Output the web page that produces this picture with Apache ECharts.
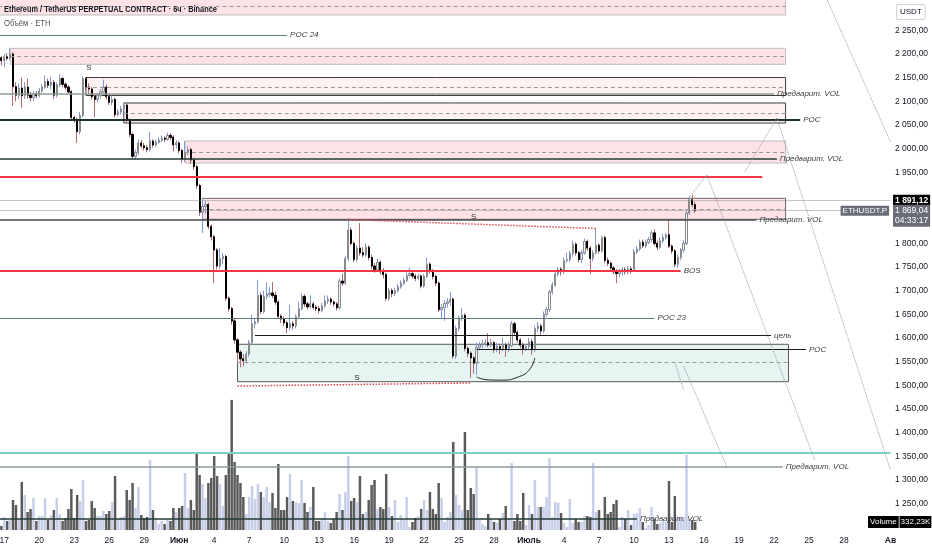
<!DOCTYPE html>
<html><head><meta charset="utf-8">
<script src="https://cdn.jsdelivr.net/npm/echarts/dist/echarts.min.js"></script>
<style>html,body{margin:0;padding:0;background:#fff}#c{width:932px;height:550px}</style>
</head><body><div id="c"></div>
<script>
// ---- DATA ----
// 6h candles from 16 May 12:00, each row: [open, close, low, high]
const candles = [
[2186,2192,2180,2198],[2192,2186,2176,2196],[2186,2194,2172,2200],[2194,2191,2186,2202],[2191,2200,2188,2212],
[2200,2131,2090,2204],[2131,2113,2100,2140],[2113,2128,2105,2138],[2128,2112,2086,2150],[2112,2130,2105,2140],
[2130,2113,2105,2148],[2113,2108,2100,2120],[2108,2116,2100,2122],[2116,2112,2106,2122],[2112,2122,2108,2128],
[2122,2130,2118,2136],[2130,2142,2126,2155],[2142,2134,2128,2148],[2134,2140,2125,2152],[2140,2113,2105,2145],
[2113,2135,2108,2140],[2135,2148,2130,2157],[2148,2136,2130,2152],[2136,2130,2124,2140],[2130,2120,2115,2134],
[2120,2066,2060,2124],[2066,2062,2055,2070],[2062,2036,2012,2066],[2036,2070,2030,2078],[2070,2148,2066,2153],
[2148,2130,2122,2151],[2130,2126,2116,2138],[2126,2110,2104,2130],[2110,2104,2066,2114],[2104,2112,2098,2118],
[2112,2120,2106,2126],[2120,2130,2116,2146],[2130,2110,2104,2136],[2110,2098,2092,2116],[2098,2104,2092,2112],
[2104,2072,2066,2108],[2072,2078,2068,2084],[2078,2084,2072,2090],[2084,2092,2078,2097],[2092,2060,2054,2096],
[2060,2030,2024,2064],[2030,1984,1978,2034],[1984,1992,1976,1998],[1992,2012,1986,2020],[2012,2006,2000,2018],
[2006,2002,1996,2012],[2002,1998,1992,2008],[1998,2016,1994,2036],[2016,2008,2002,2020],[2008,2014,2004,2020],
[2014,2018,2010,2024],[2018,2022,2014,2028],[2022,2020,2014,2026],[2020,2028,2016,2034],[2028,2024,2018,2032],
[2024,2008,1994,2028],[2008,2012,2000,2018],[2012,1996,1990,2016],[1996,1978,1970,2000],[1978,1992,1972,2016],
[1992,1998,1986,2006],[1998,1976,1968,2002],[1976,1962,1955,1980],[1962,1922,1915,1966],[1922,1866,1858,1926],
[1866,1878,1822,1895],[1878,1882,1862,1890],[1882,1836,1830,1886],[1836,1814,1806,1840],[1814,1786,1716,1818],
[1786,1752,1745,1790],[1752,1768,1746,1790],[1768,1772,1756,1780],[1772,1684,1678,1776],[1684,1662,1656,1688],
[1662,1636,1628,1666],[1636,1596,1588,1640],[1596,1570,1545,1600],[1570,1556,1538,1574],[1556,1552,1540,1566],
[1552,1566,1547,1572],[1566,1590,1560,1596],[1590,1630,1586,1649],[1630,1634,1620,1642],[1634,1690,1630,1723],
[1690,1656,1650,1696],[1656,1688,1652,1700],[1688,1692,1682,1718],[1692,1695,1686,1708],[1695,1690,1684,1718],
[1690,1676,1670,1698],[1676,1646,1640,1680],[1646,1640,1632,1650],[1640,1632,1625,1645],[1632,1622,1610,1636],
[1622,1630,1616,1670],[1630,1626,1618,1636],[1626,1645,1620,1650],[1645,1662,1640,1676],[1662,1688,1658,1694],
[1688,1672,1666,1692],[1672,1666,1660,1676],[1666,1672,1662,1690],[1672,1665,1660,1676],[1665,1662,1656,1670],
[1662,1658,1652,1668],[1658,1668,1654,1674],[1668,1678,1664,1690],[1678,1682,1672,1690],[1682,1676,1670,1686],
[1676,1672,1666,1680],[1672,1664,1658,1676],[1664,1720,1660,1726],[1720,1716,1710,1736],[1716,1768,1712,1774],
[1768,1828,1762,1852],[1828,1800,1795,1834],[1800,1766,1760,1804],[1766,1790,1760,1796],[1790,1780,1774,1843],
[1780,1776,1770,1792],[1776,1792,1772,1800],[1792,1770,1764,1796],[1770,1752,1745,1776],[1752,1745,1738,1758],
[1745,1760,1740,1768],[1760,1740,1734,1764],[1740,1734,1726,1748],[1734,1684,1678,1738],[1684,1700,1678,1706],
[1700,1694,1686,1705],[1694,1700,1688,1706],[1700,1708,1696,1714],[1708,1716,1704,1722],[1716,1722,1712,1728],
[1722,1732,1718,1738],[1732,1736,1728,1748],[1736,1731,1725,1740],[1731,1726,1720,1735],[1726,1731,1722,1736],
[1731,1710,1705,1734],[1710,1730,1706,1735],[1730,1756,1726,1770],[1756,1742,1736,1760],[1742,1730,1724,1746],
[1730,1716,1710,1734],[1716,1660,1655,1720],[1660,1664,1640,1672],[1664,1673,1636,1680],[1673,1676,1664,1684],
[1676,1682,1668,1698],[1682,1562,1556,1686],[1562,1620,1556,1626],[1620,1642,1614,1648],[1642,1648,1636,1664],
[1648,1578,1572,1652],[1578,1568,1560,1582],[1568,1558,1516,1572],[1558,1547,1525,1562],[1547,1580,1522,1590],
[1580,1585,1575,1592],[1585,1588,1578,1596],[1588,1590,1582,1598],[1590,1585,1580,1610],[1585,1590,1580,1598],
[1590,1575,1568,1594],[1575,1582,1570,1590],[1582,1578,1566,1588],[1578,1585,1572,1600],[1585,1578,1560,1590],
[1578,1584,1570,1592],[1584,1630,1580,1636],[1630,1612,1606,1634],[1612,1596,1590,1616],[1596,1585,1578,1600],
[1585,1578,1565,1590],[1578,1582,1572,1588],[1582,1592,1576,1600],[1592,1575,1565,1598],[1575,1620,1570,1626],
[1620,1625,1612,1634],[1625,1615,1605,1630],[1615,1650,1610,1656],[1650,1660,1645,1666],[1660,1697,1655,1702],
[1697,1712,1692,1718],[1712,1735,1708,1740],[1735,1745,1730,1750],[1745,1740,1732,1750],[1740,1764,1735,1770],
[1764,1766,1758,1780],[1766,1778,1760,1784],[1778,1798,1772,1806],[1798,1780,1774,1802],[1780,1766,1760,1784],
[1766,1780,1758,1786],[1780,1804,1776,1810],[1804,1790,1784,1808],[1790,1768,1735,1794],[1768,1780,1762,1786],
[1780,1796,1776,1832],[1796,1784,1778,1800],[1784,1812,1780,1816],[1812,1764,1758,1816],[1764,1758,1752,1770],
[1758,1748,1742,1762],[1748,1740,1734,1752],[1740,1736,1716,1746],[1736,1740,1728,1746],[1740,1744,1732,1750],
[1744,1740,1734,1750],[1740,1746,1734,1752],[1746,1744,1736,1752],[1744,1782,1740,1788],[1782,1788,1778,1794],
[1788,1802,1784,1808],[1802,1795,1790,1808],[1795,1802,1790,1808],[1802,1808,1798,1814],[1808,1822,1802,1828],
[1822,1800,1796,1830],[1800,1792,1786,1806],[1792,1805,1788,1812],[1805,1812,1800,1820],[1812,1818,1808,1822],
[1818,1794,1790,1849],[1794,1784,1778,1798],[1784,1756,1750,1788],[1756,1770,1748,1776],[1770,1786,1764,1790],
[1786,1800,1780,1806],[1800,1864,1796,1868],[1864,1892,1860,1899],[1892,1882,1876,1902],[1882,1869.04,1864,1888]
];
// volume per candle, thousands of ETH
const volumes = [
249,166,540,374,415,1245,1038,498,1992,1453, 747,872,1328,374,581,581,1328,415,623,830,
1328,664,374,498,872,1702,498,1453,1204,2075, 374,415,1204,913,581,581,789,664,789,1162,
2241,457,540,581,1660,1245,1951,913,1785,623, 498,540,2905,830,498,249,374,249,415,374,
913,747,913,996,2366,913,1245,830,3154,2283, 1909,1328,1951,2158,3071,2241,1909,996,2283,3154,
5400,2822,2283,1951,1370,664,1370,1826,1287,1909, 1577,1370,1785,1162,1536,913,2739,830,830,1370,
2324,1204,1162,1121,2075,1121,747,955,1785,374, 374,498,747,374,291,457,747,1494,830,1577,
3071,1204,1328,1162,2241,664,747,1245,1868,2075, 872,955,872,2324,955,581,1245,332,623,415,
1370,125,332,498,581,872,1245,830,1577,872, 664,1951,1328,332,540,747,3652,1453,1038,830,
4067,830,1743,1494,2615,415,249,166,664,457, 332,291,457,706,996,498,2781,374,664,374,
1536,208,1038,664,2075,955,955,955,1370,2988, 540,1162,1121,706,291,125,1287,291,457,332,
332,581,581,540,2781,747,830,498,1370,664, 747,1079,1245,125,540,457,830,208,664,706,
913,332,83,208,955,457,249,291,457,332, 2034,332,1411,540,540,540,3113,457,415,332.23
];
const tickDates = ['05-17','05-20','05-23','05-26','05-29','06-01','06-04','06-07','06-10','06-13','06-16','06-19','06-22','06-25','06-28','07-01','07-04','07-07','07-10','07-13','07-16','07-19','07-22','07-25','07-28','08-01'];
const tickTexts = ['17','20','23','26','29','Июн','4','7','10','13','16','19','22','25','28','Июль','4','7','10','13','16','19','22','25','28','Ав'];
const monthTexts = ['Июн','Июль','Ав'];
// zones: [from, to, top, bottom, dashed mid, kind]
const zones = [
['05-16 12','07-23 00',2335,2282.4,2301.4,'pink'],
['05-17 12','07-23 00',2212,2178.2,2195.8,'pink'],
['05-24 00','07-23 00',2150.3,2112.3,2130.3,'pinkDark'],
['05-27 06','07-23 00',2096.5,2054.2,2075.3,'pinkDark'],
['06-01 12','07-23 00',2016.2,1969.7,1993,'pink'],
['06-03 00','07-23 00',1895.1,1850.8,1871.9,'pinkMid'],
['06-06 00','07-23 06',1586.7,1507.7,1547.8,'teal']
];
// horizontal levels: [price, from, to, label, kind]
const levels = [
[2240.1,'05-16 12','06-10 06','POC 24','poc'],
[2115.5,'05-16 12','07-22 00','Предварит. VOL','volLight'],
[2061.6,'05-16 12','07-24 06','POC','pocDark'],
[1978.2,'05-16 12','07-22 06','Предварит. VOL','volDark'],
[1940.1,'05-16 12','07-21 00','','red'],
[1850.8,'05-16 12','07-20 12','Предварит. VOL','volMid'],
[1741.5,'05-16 12','07-14 00','BOS','red'],
[1642.2,'05-16 12','07-11 18','POC 23','poc'],
[1605.7,'06-07 12','07-21 18','цель','black'],
[1576.1,'06-26 12','07-24 18','POC','black'],
[1357.0,'05-16 12','08-01 00','','teal'],
[1328.1,'05-16 12','07-22 18','Предварит. VOL','volLight'],
[1219.0,'05-16 12','07-10 06','Предварит. VOL','volDark'],
[1891.12,'05-16 12','08-01 00','','priceDot'],
[1869.04,'05-16 12','08-01 00','','priceDot']
];
// sloped segments: [from, price, to, price, kind]
const segments = [
['06-15 12',1850.3,'07-06 18',1831.3,'redDot'],
['06-06 00',1498.5,'06-26 00',1505,'redDot'],
['07-14 18',1897.9,'07-16 06',1944.4,'proj'],
['07-16 06',1944.4,'07-25 12',1342.2,'proj'],
['07-19 12',1950.7,'07-22 06',2064.8,'proj'],
['07-22 06',2064.8,'08-01 00',1321,'proj'],
['07-26 12',2318,'08-01 00',2014.1,'proj'],
['07-14 06',1540.8,'07-18 00',1325.3,'proj'],
['07-13 12',1549.3,'07-14 06',1490,'proj']
];
const sMarks = [['05-24 06',2170.4],['06-26 06',1855.6],['06-16 06',1515.4]];
const arcTimes = ['06-26 12','06-27 12','06-28 18','06-30 00','07-01 00','07-01 12'];
const arcPrices = [1517.6,1511.5,1511,1517,1532,1557.8];
const lastPrice = 1869.04, markPrice = 1891.12, countdown = '04:33:17', lastVolume = 332.23;

// ---- BUILD ----
const FONT = "'Liberation Sans',Arial,sans-serif";
const p2 = n => String(n).padStart(2,'0');
const START = Date.UTC(2023,4,16,12), SLOTS = 307;
const categories = [];
for (let i = 0; i < SLOTS; i++) {
  const d = new Date(START + i * 21600000);
  categories.push(p2(d.getUTCMonth()+1)+'-'+p2(d.getUTCDate())+' '+p2(d.getUTCHours()));
}
const ix = n => categories.indexOf(n);
const tickMap = {};
tickDates.forEach((d,k) => { tickMap[d+' 00'] = tickTexts[k]; });

function fmtPrice(v){
  if (v < 1240 || v > 2260 || v === 1900 || v === 1850) return '';
  return Math.floor(v/1000) + ' ' + String(Math.round(v%1000)).padStart(3,'0') + ',00';
}
function fmt2(v){
  const [a,b] = v.toFixed(2).split('.');
  const n = +a;
  return Math.floor(n/1000) + ' ' + String(n%1000).padStart(3,'0') + ',' + b;
}

const zoneStyles = {
  pink:{fill:'rgba(242,54,69,0.14)',border:'#bdbdbd'},
  pinkDark:{fill:'rgba(242,54,69,0.07)',border:'#3d3d3d'},
  pinkMid:{fill:'rgba(242,54,69,0.14)',border:'#6b6b6b'},
  teal:{fill:'rgba(8,153,129,0.10)',border:'#5a5a5a'}
};
const lineStyles = {
  poc:{color:'#5f7a76',width:1},
  volLight:{color:'#8e9c9a',width:1.5},
  pocDark:{color:'#1e3330',width:2},
  volDark:{color:'#233b38',width:1.5},
  red:{color:'#f23645',width:2},
  volMid:{color:'#4a4a4a',width:1.5},
  black:{color:'#1a1a1a',width:1.2},
  teal:{color:'#7ccfc2',width:2},
  priceDot:{color:'#8a8d96',width:1,type:'dotted'},
  redDot:{color:'#e04a55',width:1.5,type:'dotted'},
  proj:{color:'#9598a1',width:1,type:'dotted'},
  mid:{color:'#9a9a9a',width:1,type:[4,3]}
};
const lblStyle = {color:'#3c3c3c',fontSize:8,fontStyle:'italic',fontFamily:FONT};

const markAreaData = zones.map(([f,t,top,bot,mid,k]) => [
  {coord:[ix(f),top], itemStyle:{color:zoneStyles[k].fill,borderColor:zoneStyles[k].border,borderWidth:1}},
  {coord:[ix(t),bot]}
]);
const markLineData = [];
zones.forEach(([f,t,top,bot,mid]) => {
  markLineData.push([{coord:[ix(f),mid], lineStyle:lineStyles.mid, label:{show:false}},{coord:[ix(t),mid]}]);
});
levels.forEach(([p,f,t,lab,k]) => {
  const s = lineStyles[k];
  markLineData.push([{coord:[ix(f),p], lineStyle:{color:s.color,width:s.width,type:s.type||'solid'},
    label: lab ? Object.assign({show:true,formatter:lab,position:'end',distance:3}, lblStyle) : {show:false}},
    {coord:[ix(t),p]}]);
});
segments.forEach(([f,p1,t,p2v,k]) => {
  const s = lineStyles[k];
  markLineData.push([{coord:[ix(f),p1], lineStyle:{color:s.color,width:s.width,type:s.type}, label:{show:false}},{coord:[ix(t),p2v]}]);
});
const invisible = {color:'rgba(0,0,0,0)'};
const markPointData = sMarks.map(([t,p]) => ({coord:[ix(t),p], label:{show:true,formatter:'S',position:'inside',color:'#333',fontSize:8,fontFamily:FONT}}));
const lastIdx = SLOTS - 1;
markPointData.push({coord:[lastIdx,markPrice], label:{show:true,position:'right',distance:2,formatter:fmt2(markPrice),
  backgroundColor:'#000',color:'#fff',padding:[1,2],fontSize:8.5,fontWeight:'bold',fontFamily:FONT}});
markPointData.push({coord:[lastIdx,lastPrice], label:{show:true,position:'right',distance:2,offset:[0,5],
  formatter:fmt2(lastPrice)+'\n'+countdown, lineHeight:10,
  backgroundColor:'#6a6d78',color:'#fff',padding:[1,2],fontSize:8.5,fontFamily:FONT}});
markPointData.push({coord:[lastIdx,lastPrice], label:{show:true,position:'left',distance:1,formatter:'ETHUSDT.P',
  backgroundColor:'#6a6d78',color:'#fff',padding:[1,2],fontSize:8,fontFamily:FONT}});

const bodies = candles.map(([o,c]) => [o,c,Math.min(o,c),Math.max(o,c)]);
const volData = volumes.map((v,i) => ({value:v, itemStyle:{color: candles[i][1] >= candles[i][0] ? '#c6cee8' : '#5a5a5a'}}));
const arcData = arcTimes.map((t,k) => [ix(t), arcPrices[k]]);

const chart = echarts.init(document.getElementById('c'), null, {renderer:'canvas'});
chart.setOption({
  animation:false,
  backgroundColor:'#ffffff',
  textStyle:{fontFamily:FONT},
  grid:[
    {left:-3,right:40,top:-17,bottom:-1,outerBoundsMode:'none'},
    {left:-3,right:40,top:380,bottom:20,outerBoundsMode:'none'}
  ],
  xAxis:[
    {type:'category',gridIndex:0,data:categories,boundaryGap:true,axisLine:{show:false},axisTick:{show:false},axisLabel:{show:false},splitLine:{show:false}},
    {type:'category',gridIndex:1,data:categories,boundaryGap:true,axisLine:{show:false},axisTick:{show:false},splitLine:{show:false},
     axisLabel:{interval:(i,v) => tickMap[v] !== undefined, margin:6, fontSize:8.5, color:'#131722', fontFamily:FONT,
       formatter:v => { const t = tickMap[v]; if (!t) return ''; return monthTexts.includes(t) ? '{m|'+t+'}' : t; },
       rich:{m:{fontWeight:'bold',fontSize:8.5,color:'#131722',fontFamily:FONT}}}}
  ],
  yAxis:[
    {type:'value',gridIndex:0,position:'right',min:1150,max:2350,interval:50,axisLine:{show:false},axisTick:{show:false},splitLine:{show:false},
     axisLabel:{formatter:fmtPrice,fontSize:8.5,color:'#131722',margin:3,fontFamily:FONT}},
    {type:'value',gridIndex:1,min:0,max:6225,show:false,splitLine:{show:false}}
  ],
  series:[
    {type:'bar',name:'Volume',xAxisIndex:1,yAxisIndex:1,data:volData,barWidth:'85%',z:1,silent:true,
     markPoint:{symbol:'circle',symbolSize:1,itemStyle:invisible,silent:true,data:[
       {coord:[lastIdx,lastVolume],label:{show:true,position:'right',distance:0,offset:[-23,0],
        formatter:'{a|Volume}{s| }{b|'+lastVolume.toFixed(2).replace('.',',')+'K}',
        rich:{a:{backgroundColor:'#000',color:'#fff',padding:[2,2],fontSize:8,fontFamily:FONT},
              s:{fontSize:3},
              b:{backgroundColor:'#000',color:'#fff',padding:[2,1],fontSize:8,fontFamily:FONT}}}}]}},
    {type:'candlestick',name:'wicks',xAxisIndex:0,yAxisIndex:0,data:candles,barWidth:1.7,z:2,silent:true,
     itemStyle:{color:'#7f9be0',color0:'#b26a6a',borderColor:'#7f9be0',borderColor0:'#b26a6a',borderWidth:1}},
    {type:'candlestick',name:'bodies',xAxisIndex:0,yAxisIndex:0,data:bodies,barWidth:1.7,z:3,silent:true,
     itemStyle:{color:'#f5f5f5',color0:'#000000',borderColor:'#8a8a8a',borderColor0:'#000000',borderWidth:1}},
    {type:'line',name:'drawings',xAxisIndex:0,yAxisIndex:0,data:[],z:5,silent:true,clip:false,
     markArea:{silent:true,data:markAreaData},
     markLine:{silent:true,symbol:['none','none'],data:markLineData},
     markPoint:{symbol:'circle',symbolSize:1,itemStyle:invisible,silent:true,data:markPointData}},
    {type:'line',name:'arc',xAxisIndex:0,yAxisIndex:0,data:arcData,smooth:0.5,symbol:'none',z:5,silent:true,
     lineStyle:{color:'#222',width:1}}
  ],
  graphic:[
    {type:'text',x:4,y:5,scaleX:0.82,z:100,style:{text:'Ethereum / TetherUS PERPETUAL CONTRACT · 6ч · Binance',fontSize:9,fontWeight:'bold',fill:'#131722',fontFamily:FONT}},
    {type:'text',x:4,y:19,scaleX:0.9,z:100,style:{text:'Объём · ETH',fontSize:8.5,fill:'#555',fontFamily:FONT}},
    {type:'text',left:896,top:4,z:100,style:{text:'USDT',fontSize:8,fill:'#131722',fontFamily:FONT,backgroundColor:'#fff',borderColor:'#d1d4dc',borderWidth:1,padding:[3,3],borderRadius:2}}
  ]
});
</script></body></html>
